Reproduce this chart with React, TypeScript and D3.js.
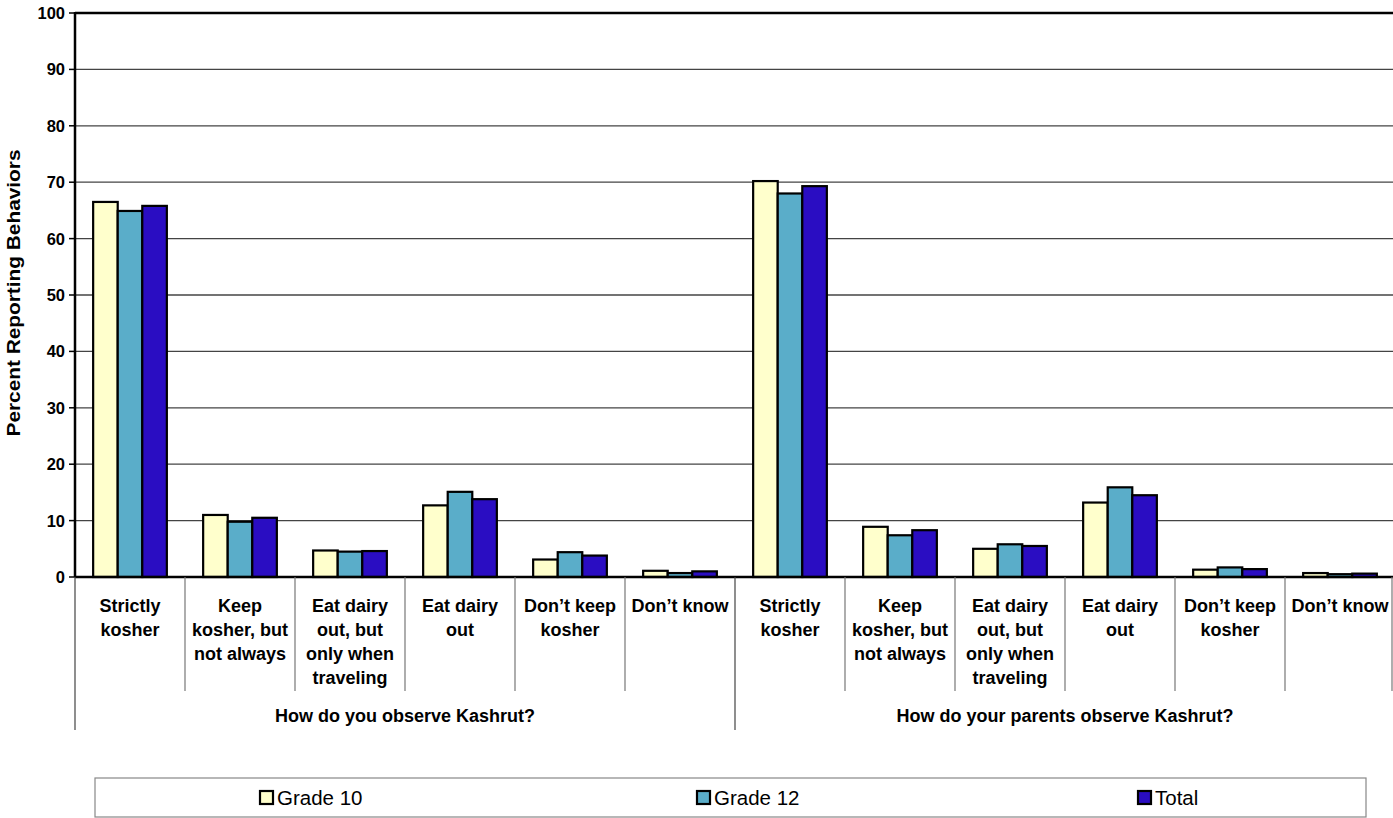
import React from "react";
import * as d3 from "d3";

const categories = [
  ["Strictly", "kosher"],
  ["Keep", "kosher, but", "not always"],
  ["Eat dairy", "out, but", "only when", "traveling"],
  ["Eat dairy", "out"],
  ["Don\u2019t keep", "kosher"],
  ["Don\u2019t know"],
];
const groups = ["How do you observe Kashrut?", "How do your parents observe Kashrut?"];
const seriesNames = ["Grade 10", "Grade 12", "Total"];
const seriesColors = ["#FFFFCC", "#5AADC9", "#2A0DC2"];

const grade10 = [66.5, 11.0, 4.7, 12.7, 3.1, 1.1, 70.2, 8.9, 5.0, 13.2, 1.3, 0.7];
const grade12 = [64.9, 9.8, 4.5, 15.1, 4.4, 0.7, 68.0, 7.4, 5.8, 15.9, 1.7, 0.5];
const total = [65.8, 10.5, 4.6, 13.8, 3.8, 1.0, 69.3, 8.3, 5.5, 14.5, 1.4, 0.6];
const yTicks = [0, 10, 20, 30, 40, 50, 60, 70, 80, 90, 100];

const series = [grade10, grade12, total];

export default function App() {
  const W = 1393, H = 818;
  const left = 75, right = 1395, top = 13, bottom = 577;
  const slots = groups.flatMap((g, gi) => categories.map((c, ci) => `${gi}-${ci}`));
  const x0 = d3.scaleBand<string>().domain(slots).range([left, right]).padding(0);
  const bw = x0.bandwidth();
  const x1 = d3.scaleBand<string>().domain(seriesNames).range([bw * 0.165, bw * 0.835]).padding(0);
  const y = d3.scaleLinear().domain([0, 100]).range([bottom, top]);
  const font = "'Liberation Sans', Arial, sans-serif";
  const lineH = 24;
  const legendX = [260, 697, 1138];

  return (
    <svg width={W} height={H} style={{ position: "absolute", left: 0, top: 0, background: "#fff" }}>
      {/* gridlines */}
      {yTicks.filter((t) => t > 0 && t < 100).map((t) => (
        <line key={t} x1={left} x2={W} y1={y(t)} y2={y(t)} stroke="#444" strokeWidth={1.3} />
      ))}
      <line x1={left} x2={W} y1={y(100)} y2={y(100)} stroke="#000" strokeWidth={2.5} />
      {/* y ticks */}
      {yTicks.map((t) => (
        <g key={t}>
          <line x1={left - 6} x2={left} y1={y(t)} y2={y(t)} stroke="#000" strokeWidth={1.5} />
          <text x={left - 10} y={y(t)} dy="0.36em" textAnchor="end" fontFamily={font} fontWeight="bold" fontSize={16.5}>
            {t}
          </text>
        </g>
      ))}
      <text
        transform={`translate(20, ${(top + bottom) / 2 - 2}) rotate(-90)`}
        textAnchor="middle"
        fontFamily={font}
        fontWeight="bold"
        fontSize={18}
        textLength={287}
        lengthAdjust="spacingAndGlyphs"
      >
        Percent Reporting Behaviors
      </text>
      {/* bars */}
      {slots.map((s, i) => (
        <g key={s} transform={`translate(${x0(s)},0)`}>
          {seriesNames.map((n, si) => {
            const v = series[si][i];
            return (
              <rect
                key={n}
                x={x1(n)}
                y={y(v)}
                width={x1.bandwidth()}
                height={y(0) - y(v)}
                fill={seriesColors[si]}
                stroke="#000"
                strokeWidth={2.2}
              />
            );
          })}
        </g>
      ))}
      {/* axes */}
      <line x1={left} x2={left} y1={top - 1} y2={bottom} stroke="#000" strokeWidth={2.5} />
      <line x1={left} x2={W} y1={bottom} y2={bottom} stroke="#000" strokeWidth={2.5} />
      {/* category separators */}
      {slots.map((s, i) => {
        const isGroupEdge = i % categories.length === 0;
        return (
          <line
            key={s}
            x1={x0(s)}
            x2={x0(s)}
            y1={bottom}
            y2={isGroupEdge ? 730 : 691}
            stroke={isGroupEdge ? "#444" : "#777"}
            strokeWidth={1.2}
          />
        );
      })}
      <line x1={W - 1} x2={W - 1} y1={bottom} y2={691} stroke="#777" strokeWidth={1.2} />
      {/* category labels */}
      {slots.map((s, i) => {
        const c = categories[i % categories.length];
        const cx = (x0(s) as number) + bw / 2;
        return (
          <text key={s} x={cx} y={612} textAnchor="middle" fontFamily={font} fontWeight="bold" fontSize={18}>
            {c.map((l, li) => (
              <tspan key={li} x={cx} dy={li === 0 ? 0 : lineH}>
                {l}
              </tspan>
            ))}
          </text>
        );
      })}
      {groups.map((g, gi) => {
        const start = x0(`${gi}-0`) as number;
        const end = (x0(`${gi}-${categories.length - 1}`) as number) + bw;
        return (
          <text key={g} x={(start + end) / 2} y={722} textAnchor="middle" fontFamily={font} fontWeight="bold" fontSize={18}>
            {g}
          </text>
        );
      })}
      {/* legend */}
      <rect x={95} y={778} width={1271} height={39} fill="#fff" stroke="#888" strokeWidth={1.2} />
      {seriesNames.map((n, i) => {
        const lx = legendX[i];
        return (
          <g key={n}>
            <rect x={lx} y={791} width={13} height={13} fill={seriesColors[i]} stroke="#000" strokeWidth={2.2} />
            <text x={lx + 17} y={798} dy="0.36em" fontFamily={font} fontSize={20.5}>
              {n}
            </text>
          </g>
        );
      })}
    </svg>
  );
}
